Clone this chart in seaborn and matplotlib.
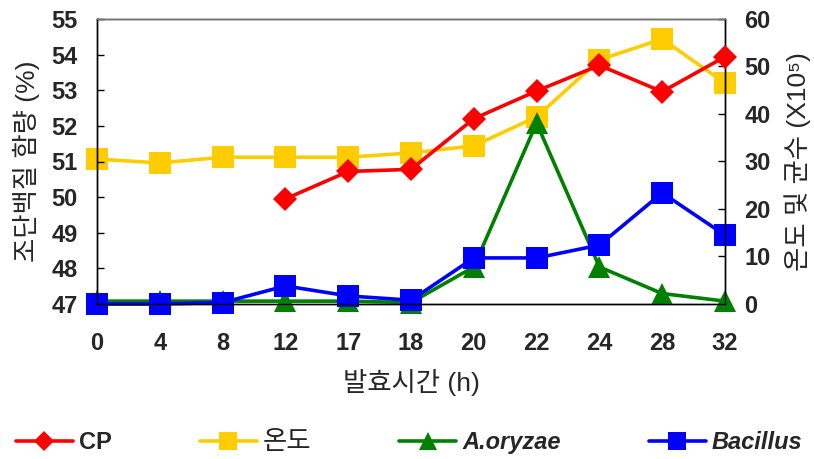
import matplotlib
matplotlib.use("Agg")
import matplotlib.pyplot as plt
import seaborn as sns
import pandas as pd
import numpy as np

hours = ["0", "4", "8", "12", "17", "18", "20", "22", "24", "28", "32"]
cp_hours = ["12", "17", "18", "20", "22", "24", "28", "32"]
cp = [49.95, 50.72, 50.78, 52.2, 52.98, 53.7, 52.96, 53.94]
temp = [30.5, 29.7, 30.9, 30.9, 30.9, 31.8, 33.3, 39.4, 51.4, 55.8, 46.5]
aoryzae = [0.6, 0.6, 0.6, 0.6, 0.6, 0.3, 7.8, 38.1, 7.8, 2.2, 0.6]
bacillus = [0.0, 0.0, 0.3, 3.8, 1.7, 0.8, 9.7, 9.7, 12.4, 23.4, 14.5]

sns.set_style("white")
plt.rcParams['font.family'] = ['Liberation Sans', 'Noto Sans CJK KR', 'DejaVu Sans']

fig = plt.figure(figsize=(8.14, 4.59), dpi=100)
ax = fig.add_axes([97/814, 1-304/459, (725-97)/814, (304-19)/459])
ax2 = ax.twinx()

pos = {h: i for i, h in enumerate(hours)}
df = pd.DataFrame({"x": range(len(hours)), "temp": temp, "aoryzae": aoryzae, "bacillus": bacillus})
dcp = pd.DataFrame({"x": [pos[h] for h in cp_hours], "cp": cp})

lw = 2.6
sns.lineplot(data=dcp, x="x", y="cp", ax=ax, color="#ff0000", marker="D", markersize=12,
             markeredgewidth=0, linewidth=lw, label="CP", clip_on=False, zorder=3)
sns.lineplot(data=df, x="x", y="temp", ax=ax2, color="#ffcc00", marker="s", markersize=16,
             markeredgewidth=0, linewidth=lw, label="온도", clip_on=False, zorder=2)
sns.lineplot(data=df, x="x", y="aoryzae", ax=ax2, color="#008000", marker="^", markersize=16,
             markeredgewidth=0, linewidth=lw, label="A.oryzae", clip_on=False, zorder=3)
sns.lineplot(data=df, x="x", y="bacillus", ax=ax2, color="#0000ff", marker="s", markersize=16,
             markeredgewidth=0, linewidth=lw, label="Bacillus", clip_on=False, zorder=4)

ax.set_zorder(ax2.get_zorder() + 1)
ax.patch.set_visible(False)

ax.set_xlim(0, len(hours) - 1)
ax.set_ylim(47, 55)
ax2.set_ylim(0, 60)
ax.set_xticks(range(len(hours)))
ax.set_xticklabels(hours)
ax.set_yticks(range(47, 56))
ax2.set_yticks(range(0, 61, 10))

for lab in ax.get_xticklabels() + ax.get_yticklabels() + ax2.get_yticklabels():
    lab.set_fontsize(17)
    lab.set_fontweight("bold")

ax.tick_params(axis="y", direction="in", length=5, width=1, color="black", pad=14)
ax.tick_params(axis="x", direction="in", length=5, width=1, color="black", pad=20)
ax2.tick_params(axis="y", direction="in", length=5, width=1, color="black", pad=14)

for a in (ax, ax2):
    for s in a.spines.values():
        s.set_color("black")
        s.set_linewidth(1)
ax.spines["top"].set_color("#777777")

ax.set_xlabel("발효시간 (h)", fontsize=19, labelpad=10)
ax.set_ylabel("조단백질 함량 (%)", fontsize=19, labelpad=8)
ax2.set_ylabel("온도 및 균수 (X10⁵)", fontsize=19, labelpad=10)

h1, l1 = ax.get_legend_handles_labels()
h2, l2 = ax2.get_legend_handles_labels()
for a in (ax, ax2):
    if a.get_legend():
        a.get_legend().remove()
leg = fig.legend(h1 + h2, l1 + l2, loc="center left", bbox_to_anchor=(16/814, 1-442/459),
                 ncol=4, frameon=False, fontsize=17, handlelength=2.4, handletextpad=0.25,
                 columnspacing=3.75, borderaxespad=0, borderpad=0, markerscale=0.85)
texts = leg.get_texts()
texts[0].set_fontweight("bold")
texts[1].set_fontsize(19)
texts[2].set_fontweight("bold"); texts[2].set_fontstyle("italic")
texts[3].set_fontweight("bold"); texts[3].set_fontstyle("italic")

fig.savefig("out.png", dpi=100)
